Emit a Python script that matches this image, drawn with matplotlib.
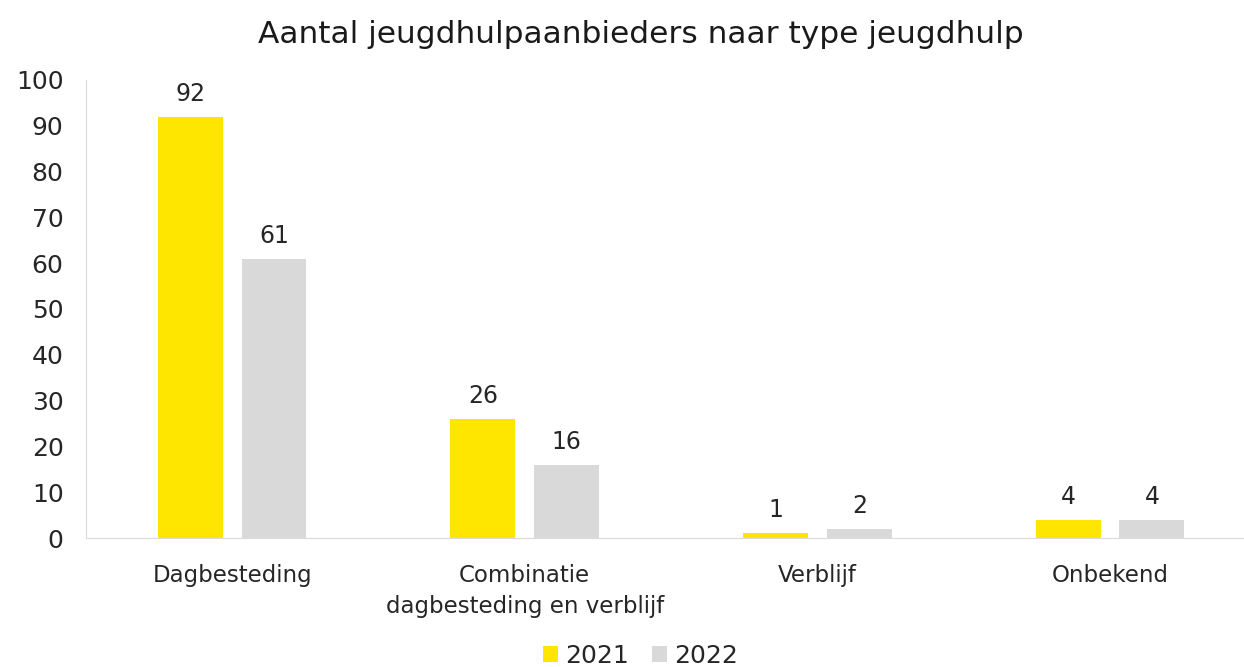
import numpy as np
import matplotlib.pyplot as plt

plt.rcParams['font.family'] = ['DejaVu Sans']

categories = ['Dagbesteding', 'Combinatie\ndagbesteding en verblijf', 'Verblijf', 'Onbekend']
years = ['2021', '2022']
values_2021 = [92, 26, 1, 4]
values_2022 = [61, 16, 2, 4]
colors = ['#FFE600', '#D9D9D9']

fig = plt.figure(figsize=(12.44, 6.67), dpi=100)
ax = fig.add_axes([0.069, 0.1934, 0.941, 0.6867])

x = np.arange(len(categories))
width = 0.222
offset = 0.143
for vals, off, col, lab in zip([values_2021, values_2022], [-offset, offset], colors, years):
    bars = ax.bar(x + off, vals, width, color=col, label=lab)
    for b, v in zip(bars, vals):
        ax.text(b.get_x() + b.get_width() / 2, v + 2.4, str(v), ha='center', va='bottom',
                fontsize=17, color='#262626')

ax.set_xlim(-0.5, 3.5)
ax.set_ylim(0, 100)
ax.set_yticks(range(0, 101, 10))
ax.set_xticks(x)
ax.set_xticklabels(categories, linespacing=1.4)
ax.tick_params(axis='both', length=0, colors='#262626')
ax.tick_params(axis='y', pad=16, labelsize=18)
ax.tick_params(axis='x', pad=19, labelsize=16.5)
for s in ['top', 'right']:
    ax.spines[s].set_visible(False)
ax.spines['left'].set_color('#D9D9E0')
ax.spines['bottom'].set_color('#D9D9E0')

fig.suptitle('Aantal jeugdhulpaanbieders naar type jeugdhulp', x=0.515, y=0.97,
             fontsize=22.5, color='#1A1A1A')

fig.legend(loc='lower center', bbox_to_anchor=(0.515, -0.035), ncol=2, frameon=False,
           fontsize=18, handlelength=0.6, handleheight=0.6, handletextpad=0.3,
           columnspacing=0.9, labelcolor='#262626')

fig.savefig('out.png', dpi=100)
